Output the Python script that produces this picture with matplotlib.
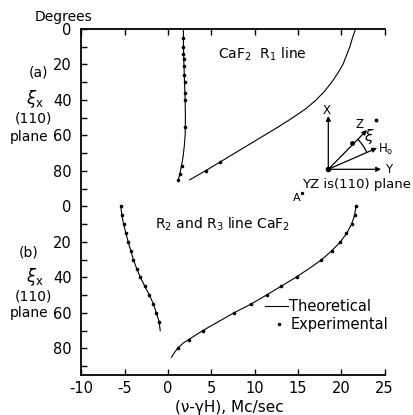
import numpy as np
import matplotlib
matplotlib.use("Agg")
import matplotlib.pyplot as plt
from matplotlib.patches import Arc

plt.rcParams['axes.unicode_minus'] = False
plt.rcParams['font.family'] = 'DejaVu Sans'

# offset used to stack panel (b) below panel (a) on one axis
OFFSET_B = 100.0

# --- panel (a): CaF2 R1 line ---
# left branch, theoretical (xi [deg], nu-gamma H [Mc/sec])
a1_line_xi = [0, 10, 20, 30, 40, 50, 60, 66, 72, 77, 82, 85]
a1_line_x = [1.77, 1.79, 1.84, 1.91, 1.98, 2.01, 1.98, 1.88, 1.74, 1.56, 1.36, 1.18]
a1_exp_xi = [5, 10, 14, 17, 21, 26, 30, 36, 40, 55, 77, 82, 85]
a1_exp_x = [1.77, 1.77, 1.78, 1.81, 1.85, 1.88, 1.92, 1.96, 2.0, 1.98, 1.58, 1.39, 1.19]

# right branch
a2_line_xi = [85, 80, 75, 70, 65, 60, 55, 50, 45, 40, 35, 30, 25, 20, 15, 10, 5, 0]
a2_line_x = [2.5, 4.3, 6.0, 7.7, 9.4, 11.1, 12.8, 14.4, 15.9, 17.1, 18.1, 18.9,
             19.6, 20.2, 20.6, 21.0, 21.3, 21.65]
a2_exp_xi = [80, 75]
a2_exp_x = [4.4, 6.0]

# --- panel (b): R2 and R3 line CaF2 ---
b1_line_xi = [0, 5, 10, 15, 20, 25, 30, 35, 40, 45, 50, 55, 60, 65, 70]
b1_line_x = [-5.45, -5.33, -5.12, -4.87, -4.59, -4.3, -3.99, -3.62, -3.18,
             -2.68, -2.15, -1.68, -1.35, -1.02, -0.9]
b1_exp_xi = [0, 5, 10, 15, 20, 25, 30, 35, 40, 45, 50, 55, 60, 65]
b1_exp_x = [-5.45, -5.33, -5.12, -4.87, -4.59, -4.3, -3.99, -3.62, -3.18,
            -2.68, -2.15, -1.68, -1.35, -1.02]

b2_line_xi = [85, 82, 80, 77, 75, 70, 65, 60, 55, 50, 45, 40, 35, 30, 25, 20,
              15, 10, 5, 0]
b2_line_x = [0.4, 0.8, 1.1, 1.75, 2.4, 4.0, 5.8, 7.6, 9.6, 11.35, 13.05, 14.75,
             16.3, 17.75, 18.9, 19.9, 20.65, 21.2, 21.55, 21.7]
b2_exp_xi = [0, 5, 10, 15, 20, 25, 30, 40, 45, 50, 55, 60, 70, 75, 80]
b2_exp_x = [21.7, 21.6, 21.2, 20.6, 19.9, 18.9, 17.7, 14.9, 13.1, 11.4, 9.6,
            7.6, 4.0, 2.4, 1.1]

xticks = [-10, -5, 0, 5, 10, 15, 20, 25]
ytick_labels = ['0', '20', '40', '60', '80']

W, H = 413, 415
fig = plt.figure(figsize=(W / 100, H / 100), dpi=100)
ax = fig.add_axes([81.4 / W, 1 - 375 / H, (384.5 - 81.4) / W, (375 - 29) / H])

lw = 0.8
ms = 2.6
for xi, x in [(a1_line_xi, a1_line_x), (a2_line_xi, a2_line_x)]:
    ax.plot(x, xi, color='black', lw=lw)
for xi, x in [(b1_line_xi, b1_line_x), (b2_line_xi, b2_line_x)]:
    ax.plot(x, np.array(xi) + OFFSET_B, color='black', lw=lw)
for xi, x in [(a1_exp_xi, a1_exp_x), (a2_exp_xi, a2_exp_x)]:
    ax.plot(x, xi, 'o', color='black', ms=ms, mec='none')
for xi, x in [(b1_exp_xi, b1_exp_x), (b2_exp_xi, b2_exp_x)]:
    ax.plot(x, np.array(xi) + OFFSET_B, 'o', color='black', ms=ms, mec='none')

ax.set_xlim(-10, 25)
ax.set_ylim(195, 0)
ax.set_xticks(xticks)
ax.set_xticklabels([str(t) for t in xticks])
ax.set_yticks([0, 20, 40, 60, 80, 100, 120, 140, 160, 180])
ax.set_yticklabels(ytick_labels + ytick_labels)
ax.set_yticks([10, 30, 50, 70, 90, 110, 130, 150, 170, 190], minor=True)
ax.tick_params(axis='both', which='both', direction='in', length=4, width=1,
               labelsize=10.5)
ax.tick_params(axis='x', top=True, pad=4, labelsize=10.5)
ax.tick_params(axis='y', pad=7)
ax.spines['right'].set_visible(False)
for s in ['left', 'top', 'bottom']:
    ax.spines[s].set_linewidth(1.3)

# overlay in pixel coordinates for the annotations
ov = fig.add_axes([0, 0, 1, 1], facecolor='none')
ov.set_xlim(0, W)
ov.set_ylim(H, 0)
ov.axis('off')

fs = 10
ov.text(63, 17, 'Degrees', ha='center', va='center', fontsize=fs)
for y0, tag in [(0, '(a)'), (180, '(b)')]:
    ov.text(38 if tag == '(a)' else 29, 72 + y0, tag, ha='center', va='center', fontsize=fs)
    ov.text(35, 99 + y0 * 0.99, r'$\xi_\mathrm{x}$', ha='center', va='center', fontsize=12)
    ov.text(33, 118 + y0 * 0.99, '(110)', ha='center', va='center', fontsize=fs)
    ov.text(29, 137 + y0 * 0.98, 'plane', ha='center', va='center', fontsize=fs)

ov.text(262, 54, r'CaF$_2$  R$_1$ line', ha='center', va='center', fontsize=fs)
ov.text(223, 224, r'R$_2$ and R$_3$ line CaF$_2$', ha='center', va='center', fontsize=fs)

# legend
ov.plot([265, 288], [306, 306], color='black', lw=lw)
ov.text(289, 306, 'Theoretical', ha='left', va='center', fontsize=10.5)
ov.plot([279], [324], 'o', color='black', ms=ms, mec='none')
ov.text(291, 324, 'Experimental', ha='left', va='center', fontsize=10.5)

ov.text(229, 407, '(\u03bd-\u03b3H), Mc/sec', ha='center', va='center', fontsize=11)

# coordinate sketch
o = (328.3, 169.3)
akw = dict(arrowstyle='-|>', color='black', lw=0.9, mutation_scale=7, shrinkA=0, shrinkB=0)
for end in [(328.3, 116), (381, 169.3), (367, 130), (377, 148)]:
    ov.annotate('', xy=end, xytext=o, arrowprops=akw)
ov.plot([o[0]], [o[1]], 'o', color='black', ms=3)
ov.plot([351.7], [143.3], 'o', color='black', ms=2.5)
ov.plot([376], [120], 'o', color='black', ms=1.8)
ov.add_patch(Arc(o, 84, 84, angle=0, theta1=-45.4, theta2=-23.6, color='black', lw=0.9))
ov.text(327, 110, 'X', ha='center', va='center', fontsize=8.5)
ov.text(389, 169, 'Y', ha='center', va='center', fontsize=8.5)
ov.text(360, 124, 'Z', ha='center', va='center', fontsize=8.5)
ov.text(369, 136, r'$\xi$', ha='center', va='center', fontsize=11)
ov.text(378, 149, r'H$_\mathrm{o}$', ha='left', va='center', fontsize=8.5)
ov.text(357, 184, 'YZ is(110) plane', ha='center', va='center', fontsize=9.5)
ov.text(297, 198, 'A', ha='center', va='center', fontsize=8)
ov.plot([302], [193], 'o', color='black', ms=1.5)

fig.savefig('out.png', dpi=100)
